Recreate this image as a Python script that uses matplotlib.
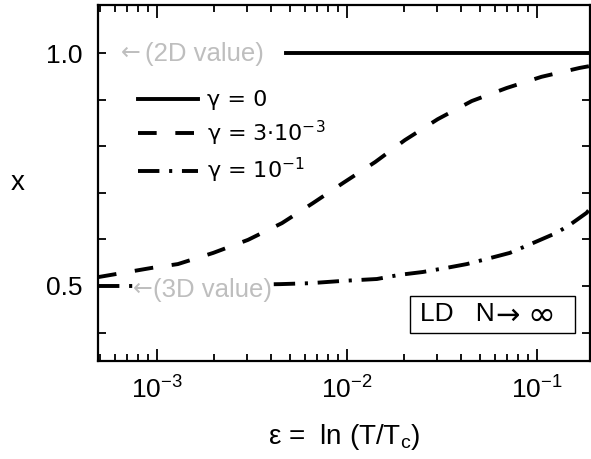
import numpy as np
import matplotlib
matplotlib.use("Agg")
import matplotlib.pyplot as plt
from matplotlib.patches import Rectangle
from matplotlib.ticker import FixedLocator, NullFormatter, LogLocator, LogFormatterMathtext, FormatStrFormatter

plt.rcParams['font.family'] = ['Liberation Sans', 'DejaVu Sans']
plt.rcParams['mathtext.fontset'] = 'custom'
plt.rcParams['mathtext.rm'] = 'Liberation Sans'
plt.rcParams['mathtext.it'] = 'Liberation Sans:italic'
plt.rcParams['mathtext.default'] = 'regular'

# gamma = 0 : flat 2D value
eps_g0 = [4.8e-3, 0.19]
x_g0 = [1.0, 1.0]

# gamma = 3e-3
eps_g3 = [4.9e-4, 9.45e-4, 1.29e-3, 1.98e-3, 3.02e-3, 4.56e-3, 6.64e-3, 9.55e-3,
          1.41e-2, 2.02e-2, 3.01e-2, 4.55e-2, 6.95e-2, 0.106, 0.168, 0.19]
x_g3 = [0.519, 0.539, 0.547, 0.571, 0.599, 0.635, 0.678, 0.721,
        0.766, 0.813, 0.858, 0.897, 0.925, 0.949, 0.968, 0.972]

# gamma = 1e-1
eps_g1 = [4.9e-4, 1.0e-3, 4.46e-3, 6.41e-3, 9.55e-3, 1.44e-2, 1.90e-2, 2.51e-2,
          3.36e-2, 4.28e-2, 5.45e-2, 7.21e-2, 9.53e-2, 0.127, 0.149, 0.183, 0.19]
x_g1 = [0.500, 0.500, 0.504, 0.506, 0.511, 0.515, 0.524, 0.530,
        0.539, 0.547, 0.558, 0.571, 0.592, 0.614, 0.631, 0.657, 0.665]

labels = ['γ = 0', 'γ = 3·10$^{-3}$', 'γ = 10$^{-1}$']

fig = plt.figure(figsize=(5.91, 4.59), dpi=100)
ax = fig.add_axes([0.1658, 0.2135, 0.832, 0.7755])

lw = 2.8
ax.plot(eps_g0, x_g0, color='black', lw=lw, label=labels[0], zorder=4)
ax.plot(eps_g3, x_g3, color='black', lw=lw, linestyle=(0, (4.8, 4.8)),
        label=labels[1], zorder=4)
ax.plot(eps_g1, x_g1, color='black', lw=lw, linestyle=(0, (5.5, 2.5, 0.8, 2.5)),
        label=labels[2], zorder=2)

ax.set_xscale('log')
ax.set_xlim(4.9e-4, 0.19)
ax.set_ylim(0.339, 1.103)

ax.yaxis.set_major_locator(FixedLocator([0.5, 1.0]))
ax.yaxis.set_minor_locator(FixedLocator([0.4, 0.6, 0.7, 0.8, 0.9]))
ax.yaxis.set_major_formatter(FormatStrFormatter('%.1f'))
ax.xaxis.set_major_locator(LogLocator(base=10))
ax.xaxis.set_major_formatter(LogFormatterMathtext())
ax.xaxis.set_minor_locator(LogLocator(base=10, subs=np.arange(2, 10)))
ax.xaxis.set_minor_formatter(NullFormatter())

ax.tick_params(which='both', direction='in', top=True, right=True, width=1.3,
               labelsize=19, pad=11)
ax.tick_params(axis='x', which='major', length=9)
ax.tick_params(axis='x', which='minor', length=5)
ax.tick_params(axis='y', which='both', length=6)
for s in ax.spines.values():
    s.set_linewidth(1.6)

ax.set_xlabel('ε =  ln (T/T$_c$)', fontsize=20, labelpad=13)
ax.set_ylabel('x', fontsize=20, rotation=0, va='center', ha='center')
ax.yaxis.set_label_coords(-0.163, 0.5)

gray = '#bebebe'
ax.text(6.5e-4, 1.0, '←', color=gray, fontsize=17, va='center', ha='left',
        family=['DejaVu Sans'])
ax.text(8.7e-4, 0.998, '(2D value)', color=gray, fontsize=18.5, va='center', ha='left')
ax.text(7.5e-4, 0.493, '←', color=gray, fontsize=17, va='center', ha='left',
        family=['DejaVu Sans'],
        bbox=dict(facecolor='white', edgecolor='none', pad=0), zorder=3)
ax.text(9.6e-4, 0.491, '(3D value)', color=gray, fontsize=18.5, va='center', ha='left',
        bbox=dict(facecolor='white', edgecolor='none', pad=0), zorder=3)

# LD box
ax.add_patch(Rectangle((0.634, 0.079), 0.336, 0.104, transform=ax.transAxes,
                       facecolor='white', edgecolor='black', lw=1.0, zorder=5))
ax.text(0.655, 0.131, 'LD   N', transform=ax.transAxes, fontsize=19,
        va='center', ha='left', zorder=6)
ax.text(0.808, 0.127, '→', transform=ax.transAxes, fontsize=21,
        va='center', ha='left', family=['DejaVu Sans'], zorder=6)
ax.text(0.873, 0.127, '∞', transform=ax.transAxes, fontsize=24,
        va='center', ha='left', family=['DejaVu Sans'], zorder=6)

ax.legend(loc='upper left', bbox_to_anchor=(0.081, 0.76), frameon=False,
          prop={'family': 'DejaVu Sans', 'size': 16},
          handlelength=2.7, handletextpad=0.4, labelspacing=0.37,
          borderpad=0, borderaxespad=0)

fig.savefig('out.png', dpi=100)
